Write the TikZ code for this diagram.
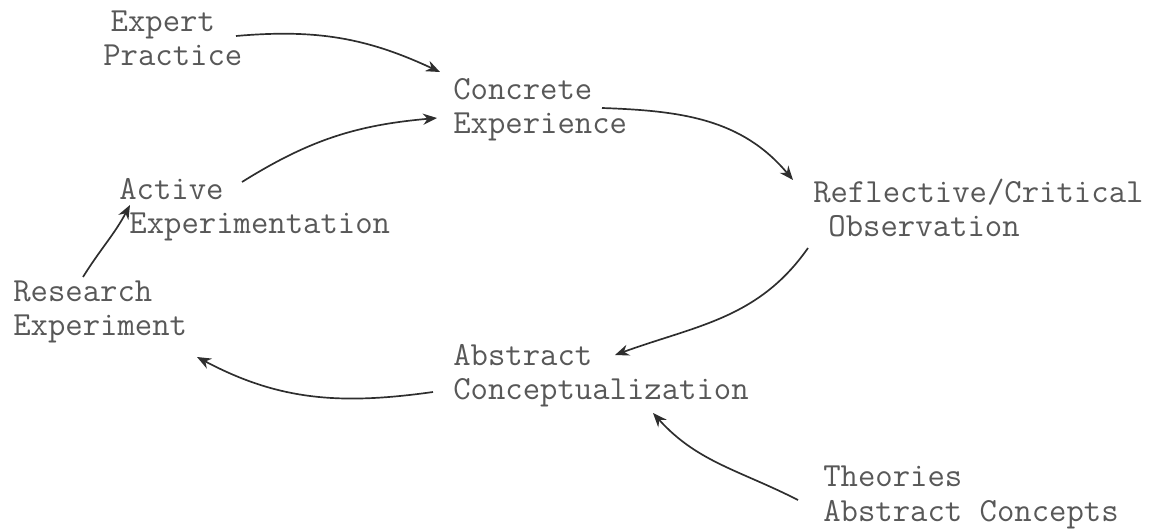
\documentclass[tikz,border=0pt]{standalone}
\usepackage{fontspec}
\usepackage{tikz}
\usetikzlibrary{arrows.meta}

\definecolor{inkgrey}{HTML}{585858}
\definecolor{pengrey}{HTML}{2E2E2E}

\begin{document}
\begin{tikzpicture}[x=0.025cm, y=0.025cm,
    txt/.style={inner sep=0pt, anchor=base west, align=left, text=inkgrey,
      font=\ttfamily\fontsize{24}{24.2}\selectfont},
    flow/.style={draw=pengrey, line width=1.2pt, -{Stealth[length=10pt,width=8pt]}}]
    \useasboundingbox (0,0) rectangle (1160,-531);

    % Learning cycle (anchored on the last line)
    \node[txt] (concrete) at (453,-134) {Concrete\\Experience};
    \node[txt] (reflect) at (813,-237) {Reflective/Critical\\\hspace{0.45em}Observation};
    \node[txt] (abstract) at (453,-400) {Abstract\\Conceptualization};
    \node[txt] (active) at (119,-234) {Active\\\hspace{0.3em}Experimentation};

    % Outside inputs
    \node[txt] (expert) at (103,-66) {\hspace{0.22em}Expert\\Practice};
    \node[txt] (research) at (13,-336) {Research\\Experiment};
    \node[txt] (theories) at (823,-521) {Theories\\Abstract Concepts};

    % Cycle arrows
    \draw[flow] ([shift={(149,26)}]concrete.base west) to[out=-2, in=130] ([shift={(-20,57)}]reflect.base west);
    \draw[flow] ([shift={(-5,-11)}]reflect.base west) to[out=-125, in=20] ([shift={(162,45)}]abstract.base west);
    \draw[flow] ([shift={(-20,8)}]abstract.base west) to[out=188, in=-28] ([shift={(184,-21)}]research.base west);
    \draw[flow] ([shift={(123,52)}]active.base west) to[out=32, in=185] ([shift={(-16,16)}]concrete.base west);

    % Input arrows
    \draw[flow] ([shift={(133,30)}]expert.base west) to[out=5, in=155] ([shift={(-13,62)}]concrete.base west);
    \draw[flow] ([shift={(70,59)}]research.base west) to[out=58, in=-118] ([shift={(11,29)}]active.base west);
    \draw[flow] ([shift={(-25,21)}]theories.base west) to[out=153, in=-48] ([shift={(200,-13)}]abstract.base west);
\end{tikzpicture}
\end{document}
